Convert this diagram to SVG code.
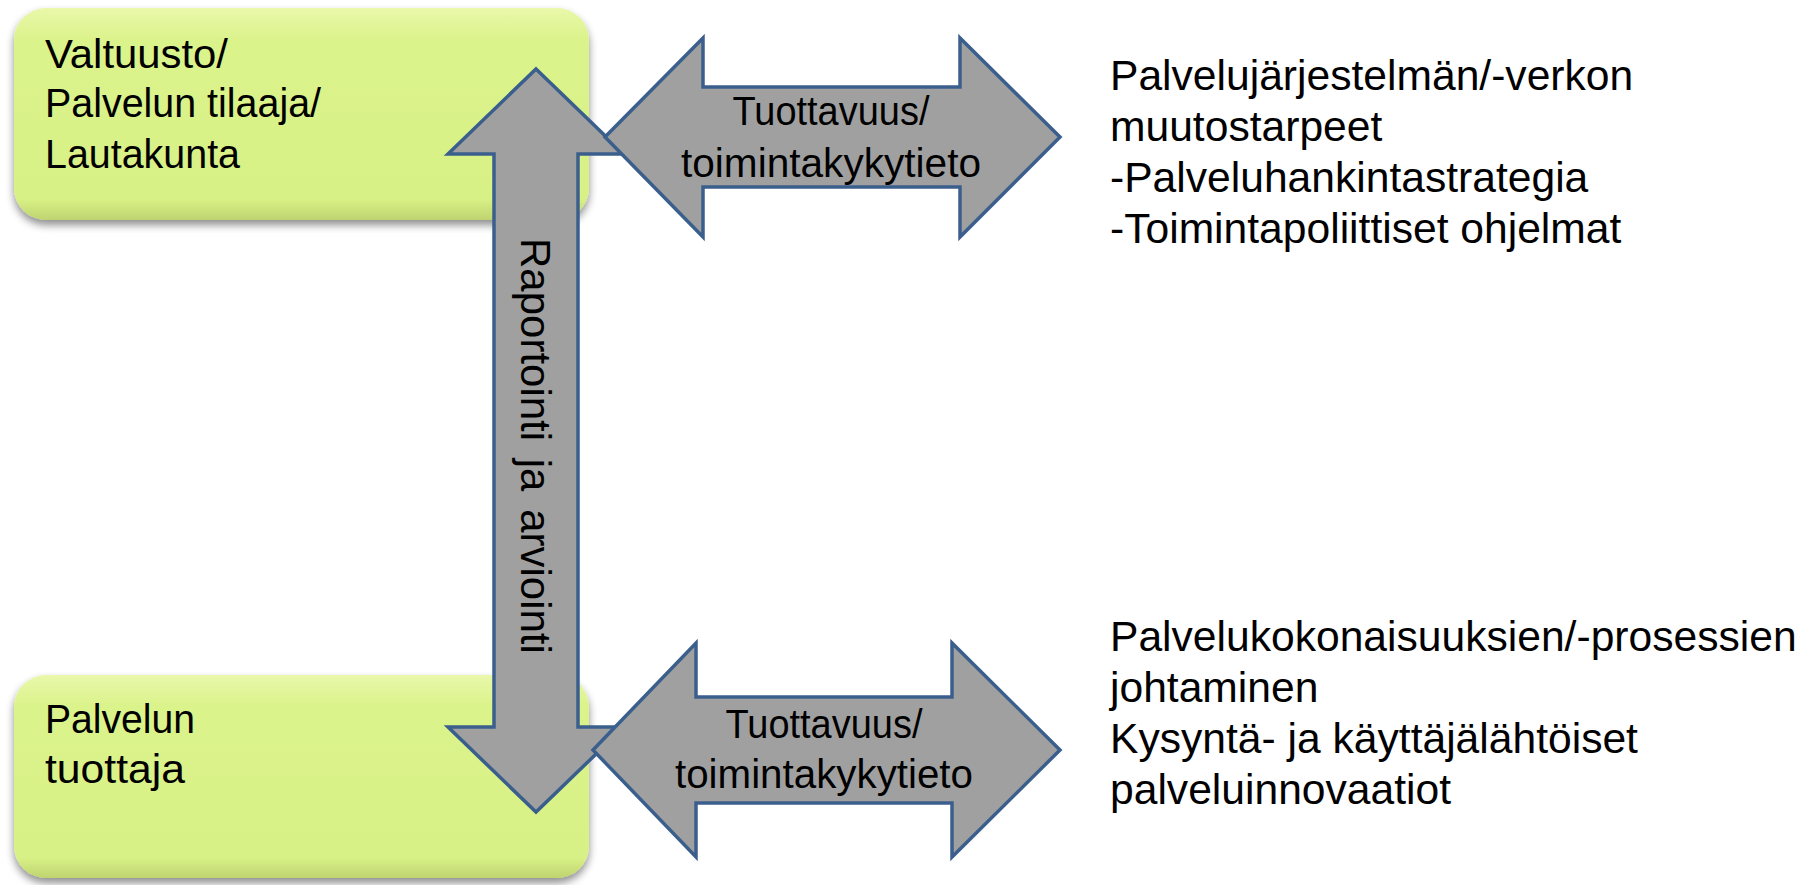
<svg xmlns="http://www.w3.org/2000/svg" width="1812" height="885" viewBox="0 0 1812 885">
<defs>
<linearGradient id="boxg" x1="0" y1="0" x2="0" y2="1">
<stop offset="0" stop-color="#e9f8ab"/>
<stop offset="0.15" stop-color="#dbf38b"/>
<stop offset="0.9" stop-color="#d8f186"/>
<stop offset="1" stop-color="#bfd470"/>
</linearGradient>
<filter id="sh" x="-5%" y="-5%" width="110%" height="120%">
<feGaussianBlur in="SourceAlpha" stdDeviation="4"/>
<feOffset dx="0" dy="5" result="b"/>
<feComponentTransfer><feFuncA type="linear" slope="0.45"/></feComponentTransfer>
<feMerge><feMergeNode/><feMergeNode in="SourceGraphic"/></feMerge>
</filter>
</defs>
<style>
.box{fill:url(#boxg);filter:url(#sh);}
.arr{fill:#a0a0a0;stroke:#3b5f8c;stroke-width:3.5;stroke-linejoin:miter;}
.t{font-family:"Liberation Sans",Arial,sans-serif;font-size:41px;fill:#000;}
.v{font-family:"Liberation Sans",Arial,sans-serif;font-size:42px;word-spacing:6px;fill:#000;}
.r{font-family:"Liberation Sans",Arial,sans-serif;font-size:42.6px;fill:#000;}
</style>
<rect width="1812" height="885" fill="#ffffff"/>
<g id="box-tilaaja">
<rect class="box" x="14" y="8" width="575" height="212" rx="32" ry="32"/>
<text class="t" x="45" y="68" textLength="183" lengthAdjust="spacingAndGlyphs">Valtuusto/</text>
<text class="t" x="45" y="117" textLength="276" lengthAdjust="spacingAndGlyphs">Palvelun tilaaja/</text>
<text class="t" x="45" y="168" textLength="195" lengthAdjust="spacingAndGlyphs">Lautakunta</text>
</g>
<g id="box-tuottaja">
<rect class="box" x="14" y="675" width="575" height="203" rx="32" ry="32"/>
<text class="t" x="45" y="733" textLength="150" lengthAdjust="spacingAndGlyphs">Palvelun</text>
<text class="t" x="45" y="783" textLength="140" lengthAdjust="spacingAndGlyphs">tuottaja</text>
</g>
<g id="connectors">
<g id="arrow-raportointi">
<polygon class="arr" points="536,69 624,154 578,154 578,727 624,727 536,812 448,727 494,727 494,154 448,154"/>
<text class="v" transform="translate(521,238) rotate(90)" x="0" y="0">Raportointi ja arviointi</text>
</g>
<g id="arrow-top">
<polygon class="arr" points="605,137 703,38 703,87 960,87 960,38 1060,137 960,237 960,187 703,187 703,237"/>
<text class="t" x="831" y="125" text-anchor="middle" textLength="197" lengthAdjust="spacingAndGlyphs">Tuottavuus/</text>
<text class="t" x="831" y="177" text-anchor="middle" textLength="300" lengthAdjust="spacingAndGlyphs">toimintakykytieto</text>
</g>
<g id="arrow-bottom">
<polygon class="arr" points="593,750 696,643 696,697 952,697 952,643 1060,750 952,857 952,803 696,803 696,857"/>
<text class="t" x="824" y="738" text-anchor="middle" textLength="197" lengthAdjust="spacingAndGlyphs">Tuottavuus/</text>
<text class="t" x="824" y="788" text-anchor="middle" textLength="298" lengthAdjust="spacingAndGlyphs">toimintakykytieto</text>
</g>
</g>
<g id="text-top-right">
<text class="r" x="1110" y="90">Palvelujärjestelmän/-verkon</text>
<text class="r" x="1110" y="141">muutostarpeet</text>
<text class="r" x="1110" y="192">-Palveluhankintastrategia</text>
<text class="r" x="1110" y="243">-Toimintapoliittiset ohjelmat</text>
</g>
<g id="text-bottom-right">
<text class="r" x="1110" y="651">Palvelukokonaisuuksien/-prosessien</text>
<text class="r" x="1110" y="702">johtaminen</text>
<text class="r" x="1110" y="753">Kysyntä- ja käyttäjälähtöiset</text>
<text class="r" x="1110" y="804">palveluinnovaatiot</text>
</g>
</svg>
